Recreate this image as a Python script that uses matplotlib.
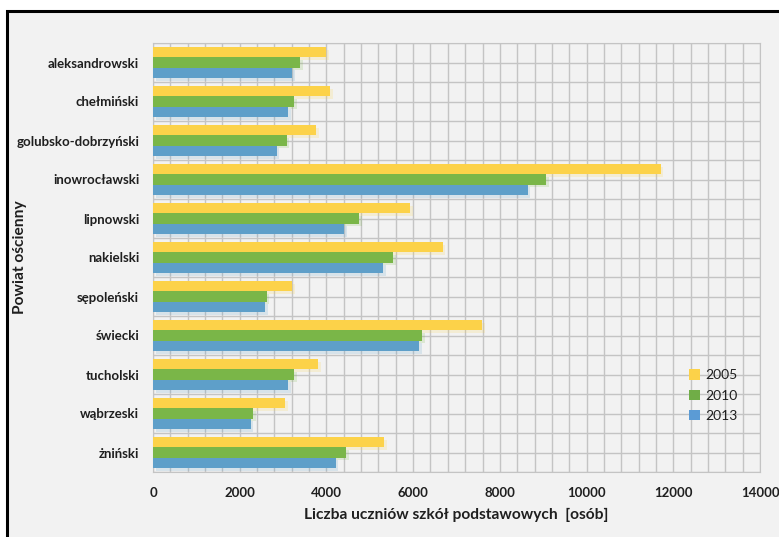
import matplotlib
matplotlib.use("Agg")
import matplotlib.pyplot as plt
import numpy as np
from matplotlib.patches import Rectangle
import matplotlib.patheffects as pe

plt.rcParams['font.family'] = ['Lato', 'DejaVu Sans']

categories = ["aleksandrowski", "chełmiński", "golubsko-dobrzyński", "inowrocławski",
              "lipnowski", "nakielski", "sępoleński", "świecki", "tucholski",
              "wąbrzeski", "żniński"]
series_names = ["2005", "2010", "2013"]
v2005 = [3990, 4080, 3760, 11710, 5930, 6680, 3210, 7590, 3810, 3040, 5330]
v2010 = [3400, 3250, 3080, 9060, 4750, 5540, 2620, 6210, 3250, 2310, 4450]
v2013 = [3200, 3110, 2850, 8640, 4410, 5300, 2590, 6140, 3110, 2250, 4210]
x_ticks = [0, 2000, 4000, 6000, 8000, 10000, 12000, 14000]

colors = ["#FCD249", "#7AB648", "#5E9FC9"]
legend_colors = ["#FCD249", "#70AD47", "#5B9BD5"]

W, H = 779, 537
fig = plt.figure(figsize=(W/100, H/100), dpi=100)
fig.patch.set_facecolor("white")
# outer frame
frame = Rectangle((7/W, -0.05), 1.1, 1 - 11/H + 0.05, transform=fig.transFigure,
                  facecolor="#F2F2F2", edgecolor="black", linewidth=2.2, zorder=-5)
fig.patches.append(frame)

left, right, top, bottom = 153, 760, 43, 472
ax = fig.add_axes([left/W, 1 - bottom/H, (right-left)/W, (bottom-top)/H])
ax.set_zorder(1)
ax.set_facecolor("#F2F2F2")

y = np.arange(len(categories))
h = 0.265
off = 0.265
gridc = "#C4C4C4"
for vals, o, c in zip([v2005, v2010, v2013], [-off, 0, off], colors):
    bars = ax.barh(y + o, vals, height=h, color=c, zorder=3, edgecolor="none")
    for b in bars:
        b.set_path_effects([pe.SimplePatchShadow(offset=(2, -2), shadow_rgbFace=c, alpha=0.18),
                            pe.Normal()])

ax.set_xlim(0, 14000)
ax.set_ylim(len(categories) - 0.5, -0.5)
ax.set_xticks(x_ticks)
ax.set_xticks(np.arange(0, 14001, 400), minor=True)
ax.set_yticks(y)
ax.set_yticks(np.arange(-0.5, len(categories), 0.5), minor=True)
ax.set_yticklabels(categories)
ax.set_xticklabels([str(t) for t in x_ticks])
ax.grid(True, which="both", color=gridc, linewidth=1.0, zorder=0)
ax.set_axisbelow(True)
ax.tick_params(which="both", length=0)
ax.tick_params(axis="y", pad=10, labelsize=9.5, labelcolor="#1F1F1F")
ax.tick_params(axis="x", pad=11, labelsize=9.5, labelcolor="#1F1F1F")
for t in ax.get_xticklabels() + ax.get_yticklabels():
    t.set_fontweight("bold")
for s in ax.spines.values():
    s.set_color(gridc)

ax.set_xlabel("Liczba uczniów szkół podstawowych  [osób]", fontsize=11.2, fontweight="bold",
              color="#1F1F1F", labelpad=6)
ax.set_ylabel("Powiat ościenny", fontsize=11.2, fontweight="bold", color="#1F1F1F")
ax.yaxis.set_label_coords((27 - left) / (right - left), 0.5)

handles = [Rectangle((0, 0), 1, 1, facecolor=c, edgecolor="none") for c in legend_colors]
leg = ax.legend(handles, series_names, loc="center left", bbox_to_anchor=(0.872, 0.178),
                frameon=False, fontsize=10, handlelength=0.75, handleheight=0.75,
                handletextpad=0.4, labelspacing=0.6, borderpad=0)
for t in leg.get_texts():
    t.set_color("#1F1F1F")

fig.savefig("out.png", dpi=100, facecolor=fig.get_facecolor())
